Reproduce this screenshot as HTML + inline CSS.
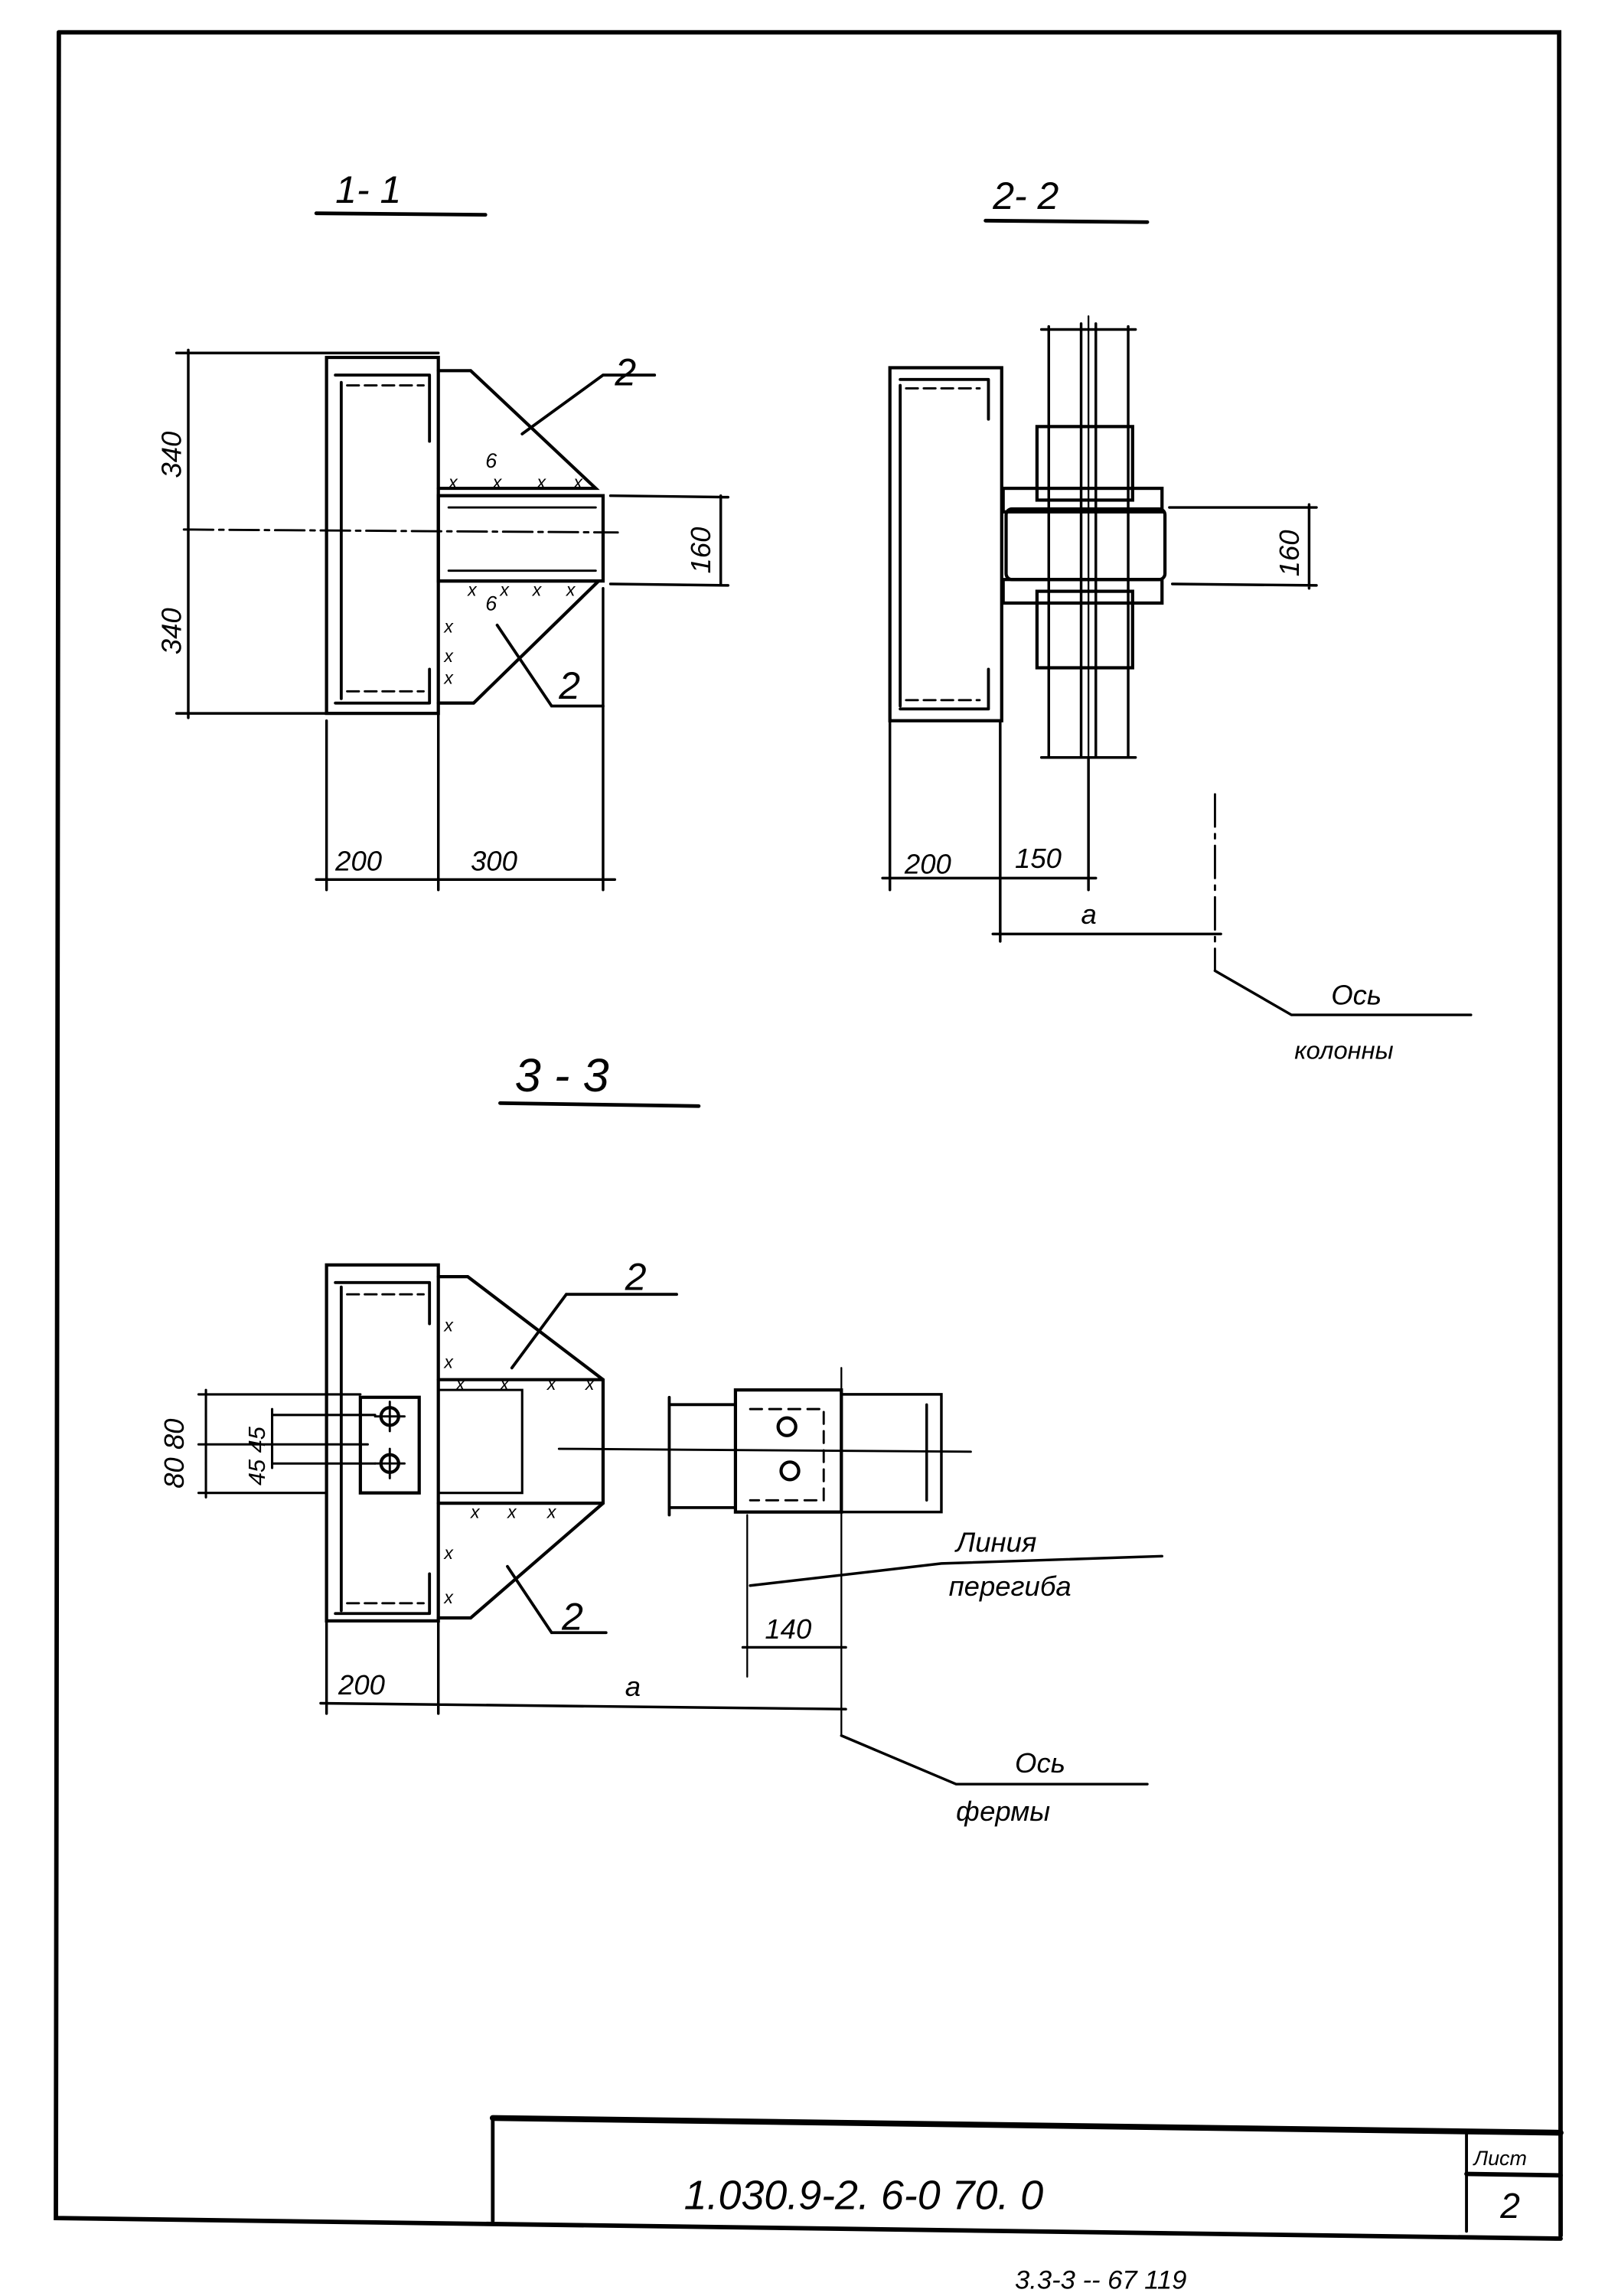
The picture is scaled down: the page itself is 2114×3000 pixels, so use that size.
<!DOCTYPE html>
<html><head><meta charset="utf-8"><style>
html,body{margin:0;padding:0;background:#fff;}
svg{display:block;}
text{font-family:"Liberation Sans",sans-serif;font-style:italic;fill:#000;}
</style></head><body>
<svg width="2114" height="3000" viewBox="0 0 1100 1561" xmlns="http://www.w3.org/2000/svg">
<g fill="none" stroke="#000" stroke-width="2.2" stroke-linecap="round">
<!-- frame -->
<path d="M40 22 L1060 22 L1061 1520" stroke-width="3"/>
<path d="M40 22 L38 1508 L1061 1522" stroke-width="3"/>
<path d="M335 1440 L1061 1450" stroke-width="4"/>
<path d="M335 1440 L335 1510" stroke-width="2.5"/>
<path d="M997 1449 L997 1517" stroke-width="2"/>
<path d="M997 1478 L1061 1479" stroke-width="3"/>

<!-- 1-1 title -->
<path d="M215 145 L330 146" stroke-width="2.5"/>

<!-- Section 1-1 -->
<rect x="222" y="243" width="76" height="242"/>
<path d="M228 255 L292 255 M232 260 L232 475 M292 255 L292 300 M228 478 L292 478 M292 455 L292 478" stroke-width="2"/>
<path d="M236 262 L288 262 M236 470 L288 470" stroke-dasharray="8 4" stroke-width="1.5"/>
<path d="M298 252 L320 252 L405 332 L298 332"/>
<path d="M298 395 L407 395 L322 478 L298 478"/>
<rect x="298" y="337" width="112" height="58"/>
<path d="M305 345 L405 345 M305 388 L405 388" stroke-width="1.5"/>
<!-- dims 1-1 -->
<path d="M128 238 L128 488 M120 240 L298 240 M120 485 L222 485" stroke-width="1.8"/>
<path d="M125 360 L420 362" stroke-dasharray="20 4 3 4" stroke-width="1.5"/>
<path d="M415 337 L495 338 M415 397 L495 398 M490 337 L490 398" stroke-width="1.8"/>
<path d="M215 598 L418 598 M222 490 L222 605 M298 485 L298 605 M410 400 L410 605" stroke-width="1.8"/>
<path d="M390 240 L420 240 M385 240 L360 265 L330 265" stroke-width="0"/>
<path d="M355 295 L410 255 L445 255" stroke-width="2"/>
<path d="M338 425 L375 480 L410 480" stroke-width="2"/>

<!-- 2-2 title -->
<path d="M670 150 L780 151" stroke-width="2.5"/>
<!-- Section 2-2 -->
<rect x="605" y="250" width="76" height="240"/>
<path d="M612 258 L672 258 M612 262 L612 480 M612 482 L672 482 M672 258 L672 285 M672 455 L672 482" stroke-width="2"/>
<path d="M616 264 L666 264 M616 476 L666 476" stroke-dasharray="8 4" stroke-width="1.5"/>
<path d="M713 222 L713 515 M767 222 L767 515 M735 220 L735 515 M745 220 L745 515 M708 224 L772 224 M708 515 L772 515" stroke-width="1.8"/>
<path d="M740 215 L740 600" stroke-width="1.2"/>
<rect x="705" y="290" width="65" height="50"/>
<rect x="705" y="402" width="65" height="52"/>
<rect x="682" y="332" width="108" height="16"/>
<rect x="682" y="394" width="108" height="16"/>
<rect x="684" y="346" width="108" height="48" rx="4"/>
<path d="M795 345 L895 345 M797 397 L895 398 M890 343 L890 400" stroke-width="1.8"/>
<path d="M605 490 L605 605 M680 490 L680 640 M740 515 L740 605 M600 597 L745 597 M675 635 L830 635" stroke-width="1.8"/>
<path d="M826 540 L826 660" stroke-dasharray="22 5 3 5" stroke-width="1.5"/>
<path d="M826 660 L878 690 L1000 690" stroke-width="1.8"/>

<!-- 3-3 title -->
<path d="M340 750 L475 752" stroke-width="2.5"/>
<!-- Section 3-3 -->
<rect x="222" y="860" width="76" height="242"/>
<path d="M228 872 L292 872 M232 875 L232 1095 M228 1097 L292 1097 M292 872 L292 900 M292 1070 L292 1097" stroke-width="2"/>
<path d="M236 880 L288 880 M236 1090 L288 1090" stroke-dasharray="8 4" stroke-width="1.5"/>
<path d="M298 868 L318 868 L410 938 L410 1022 L320 1100 L298 1100"/>
<path d="M298 938 L410 938 M298 1022 L410 1022"/>
<rect x="245" y="950" width="40" height="65"/>
<circle cx="265" cy="963" r="6"/><circle cx="265" cy="995" r="6"/>
<path d="M255 963 L275 963 M265 953 L265 973 M255 995 L275 995 M265 985 L265 1005" stroke-width="1.5"/>
<path d="M298 945 L355 945 L355 1015 L298 1015" stroke-width="1.6"/>
<path d="M380 985 L660 987" stroke-width="1.5"/>
<path d="M455 950 L455 1030 M455 955 L500 955 M455 1025 L500 1025" stroke-width="2"/>
<rect x="500" y="945" width="72" height="83"/>
<path d="M572 948 L640 948 L640 1028 L572 1028 M630 955 L630 1020" stroke-width="1.8"/>
<circle cx="535" cy="970" r="6"/><circle cx="537" cy="1000" r="6"/>
<path d="M510 958 L560 958 L560 1020 L510 1020" stroke-dasharray="8 5" stroke-width="1.5"/>
<path d="M572 930 L572 1180 M508 1030 L508 1140" stroke-width="1.2"/>
<!-- left dims -->
<path d="M135 948 L245 948 M135 982 L250 982 M135 1015 L222 1015 M140 945 L140 1018 M185 962 L255 962 M185 995 L255 995 M185 958 L185 998" stroke-width="1.6"/>
<!-- bottom dims -->
<path d="M218 1158 L575 1162 M222 1102 L222 1165 M298 1102 L298 1165 M505 1120 L575 1120" stroke-width="1.8"/>
<path d="M510 1078 L640 1063 L790 1058" stroke-width="1.8"/>
<path d="M572 1180 L650 1213 L780 1213" stroke-width="1.8"/>
<path d="M348 930 L385 880 L460 880" stroke-width="2"/>
<path d="M345 1065 L375 1110 L412 1110" stroke-width="2"/>
</g>
<!-- weld marks -->
<g font-size="12">
<text x="305" y="332">x</text><text x="335" y="332">x</text><text x="365" y="332">x</text><text x="390" y="332">x</text>
<text x="318" y="405">x</text><text x="340" y="405">x</text><text x="362" y="405">x</text><text x="385" y="405">x</text>
<text x="302" y="430">x</text><text x="302" y="450">x</text><text x="302" y="465">x</text>
<text x="302" y="905">x</text><text x="302" y="930">x</text>
<text x="310" y="945">x</text><text x="340" y="945">x</text><text x="372" y="945">x</text><text x="398" y="945">x</text>
<text x="320" y="1032">x</text><text x="345" y="1032">x</text><text x="372" y="1032">x</text>
<text x="302" y="1060">x</text><text x="302" y="1090">x</text>
</g>
<g font-size="26">
<text x="228" y="138">1- 1</text>
<text x="675" y="142">2- 2</text>
<text x="350" y="742" font-size="32">3 - 3</text>
<text x="418" y="262">2</text>
<text x="380" y="475">2</text>
<text x="425" y="877">2</text>
<text x="382" y="1108">2</text>
</g>
<g font-size="14">
<text x="330" y="318">6</text><text x="330" y="415">6</text>
</g>
<g font-size="19">
<text transform="translate(123 325) rotate(-90)">340</text>
<text transform="translate(123 445) rotate(-90)">340</text>
<text transform="translate(483 390) rotate(-90)">160</text>
<text transform="translate(883 392) rotate(-90)">160</text>
<text x="228" y="592">200</text><text x="320" y="592">300</text>
<text x="615" y="594">200</text><text x="690" y="590">150</text>
<text x="735" y="628">a</text>
<text x="905" y="683">Ось</text>
<text x="880" y="720" font-size="17">колонны</text>
<text transform="translate(125 1012) rotate(-90)">80 80</text>
<text transform="translate(180 1010) rotate(-90)" font-size="16">45 45</text>
<text x="230" y="1152">200</text><text x="425" y="1153">a</text>
<text x="520" y="1114">140</text>
<text x="650" y="1055">Линия</text>
<text x="645" y="1085">перегиба</text>
<text x="690" y="1205">Ось</text>
<text x="650" y="1238">фермы</text>
<text x="465" y="1502" font-size="28">1.030.9-2. 6-0 70. 0</text>
<text x="1002" y="1472" font-size="14">Лист</text>
<text x="1020" y="1508" font-size="24">2</text>
<text x="690" y="1556" font-size="18">3.3-3 -- 67  119</text>
</g>
</svg>
</body></html>
